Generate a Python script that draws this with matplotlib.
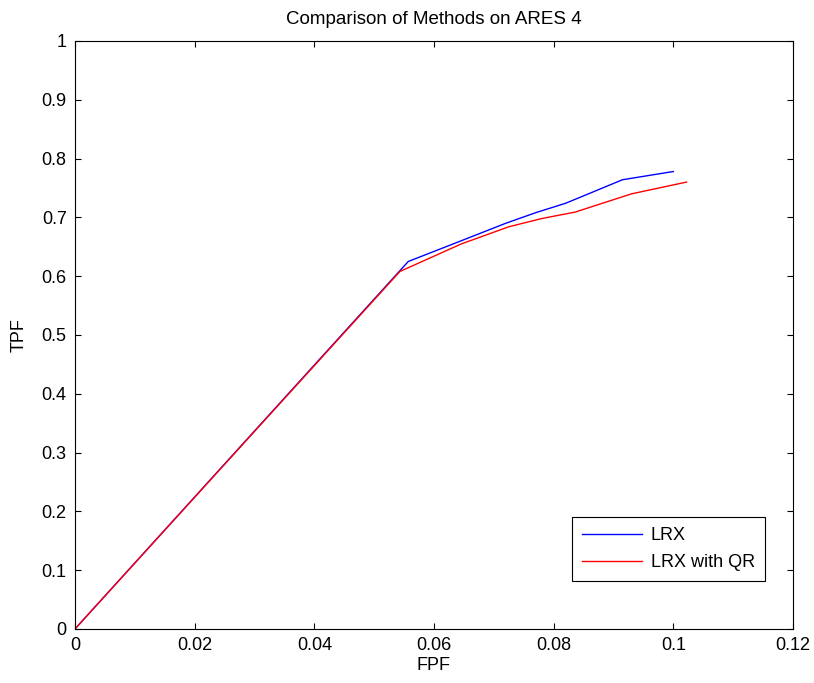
import matplotlib
matplotlib.use("Agg")
import matplotlib.pyplot as plt

plt.rcParams['font.family'] = ['Liberation Sans', 'DejaVu Sans']

fpf_lrx = [0.0, 0.0557, 0.065, 0.072, 0.077, 0.082, 0.0915, 0.1]
tpf_lrx = [0.0, 0.625, 0.662, 0.690, 0.708, 0.724, 0.764, 0.778]
fpf_qr = [0.0, 0.0543, 0.0646, 0.0725, 0.078, 0.0836, 0.093, 0.1022]
tpf_qr = [0.0, 0.608, 0.655, 0.684, 0.698, 0.709, 0.740, 0.760]

xticks = [0, 0.02, 0.04, 0.06, 0.08, 0.1, 0.12]
xtick_labels = ['0', '0.02', '0.04', '0.06', '0.08', '0.1', '0.12']
yticks = [0, 0.1, 0.2, 0.3, 0.4, 0.5, 0.6, 0.7, 0.8, 0.9, 1]
ytick_labels = ['0', '0.1', '0.2', '0.3', '0.4', '0.5', '0.6', '0.7', '0.8', '0.9', '1']

fig = plt.figure(figsize=(8.14, 6.83), dpi=100)
ax = fig.add_axes([0.0921, 0.0791, 0.8821, 0.8609])
ax.plot(fpf_lrx, tpf_lrx, color='#0000ff', lw=1.0, label='LRX')
ax.plot(fpf_qr, tpf_qr, color='#ff0000', lw=1.0, label='LRX with QR')
ax.set_xlim(0, 0.12)
ax.set_ylim(0, 1)
ax.set_xticks(xticks)
ax.set_xticklabels(xtick_labels)
ax.set_yticks(yticks)
ax.set_yticklabels(ytick_labels)
ax.tick_params(direction='in', top=True, right=True, length=4, width=0.8, labelsize=13, colors='black', pad=6)
for s in ax.spines.values():
    s.set_linewidth(0.8)
ax.set_xlabel('FPF', fontsize=13, labelpad=2)
ax.set_ylabel('TPF', fontsize=13, labelpad=10)
ax.set_title('Comparison of Methods on ARES 4', fontsize=13.5, pad=12)
leg = ax.legend(loc='lower right', bbox_to_anchor=(0.961, 0.082), borderaxespad=0,
                fontsize=13, fancybox=False, edgecolor='black', framealpha=1,
                handlelength=3.3, handletextpad=0.5, borderpad=0.55, labelspacing=0.55)
leg.get_frame().set_linewidth(0.8)
fig.savefig('out.png', dpi=100)
